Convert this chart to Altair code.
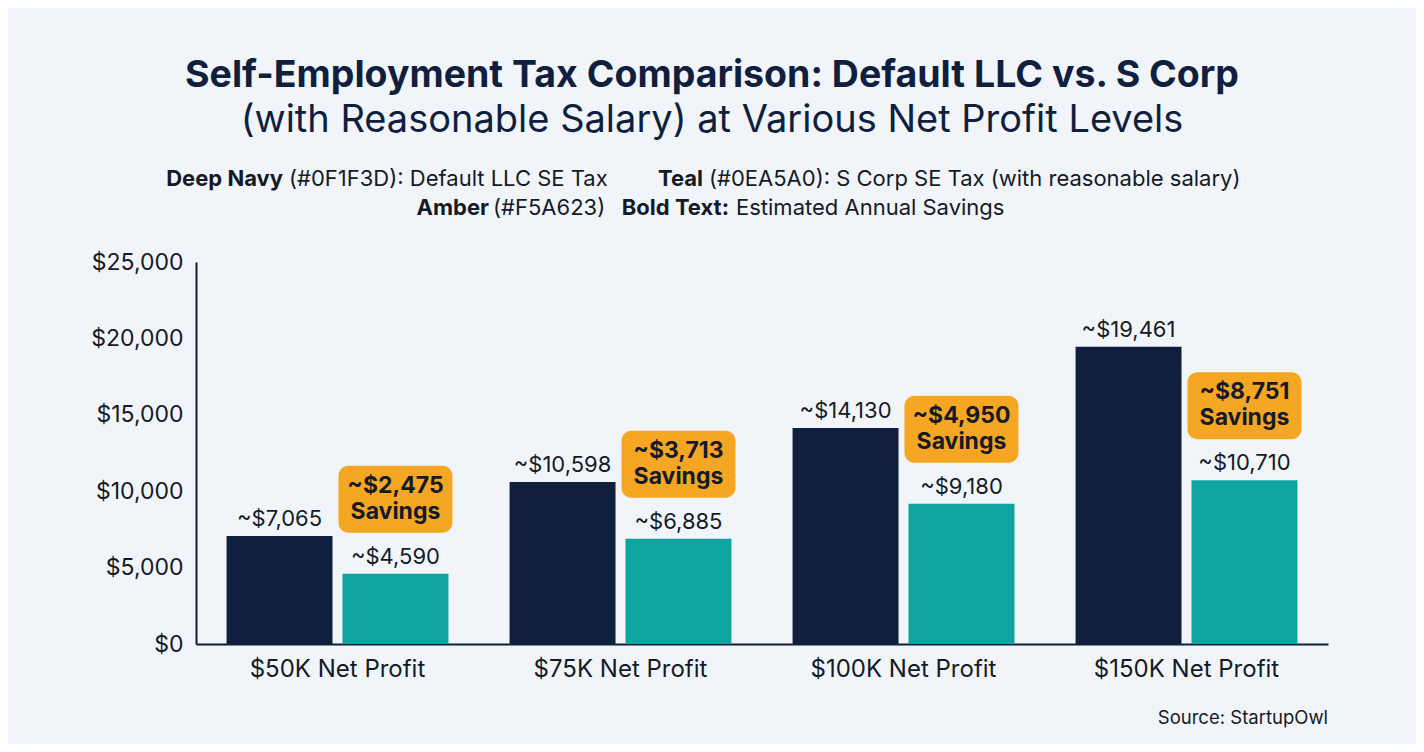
import altair as alt
import pandas as pd

categories = ["$50K Net Profit", "$75K Net Profit", "$100K Net Profit", "$150K Net Profit"]
series = ["Default LLC SE Tax", "S Corp SE Tax"]
llc_tax = [7065, 10598, 14130, 19461]
scorp_tax = [4590, 6885, 9180, 10710]
savings = [2475, 3713, 4950, 8751]
y_ticks = [0, 5000, 10000, 15000, 20000, 25000]

NAVY = "#0F1F3D"
TEAL = "#0EA5A0"
AMBER = "#F5A623"
BG = "#F1F5F9"
INK = "#141a26"
FONT = "Inter"

rows = []
for c, a, b in zip(categories, llc_tax, scorp_tax):
    rows.append({"category": c, "series": series[0], "value": a, "label": f"~${a:,}"})
    rows.append({"category": c, "series": series[1], "value": b, "label": f"~${b:,}"})
df_long = pd.DataFrame(rows)

df_sav = pd.DataFrame({
    "category": categories,
    "series": [series[1]] * len(categories),
    "value": scorp_tax,
    "sav_label": [f"~${s:,}\nSavings" for s in savings],
})

x_enc = alt.X(
    "category:N", sort=categories, title=None,
    scale=alt.Scale(paddingInner=0.216, paddingOuter=0.108),
    axis=alt.Axis(labelAngle=0, labelFontSize=24, labelPadding=13, ticks=False, labelLimit=0,
                  domainColor=NAVY, domainWidth=2, labelColor=INK, labelFont=FONT),
)
xo_enc = alt.XOffset("series:N", sort=series,
                     scale=alt.Scale(domain=series, paddingInner=0.086, paddingOuter=0))
y_enc = alt.Y(
    "value:Q", title=None,
    scale=alt.Scale(domain=[0, 25000], nice=False),
    axis=alt.Axis(values=y_ticks, format="$,.0f", labelFontSize=23, labelPadding=13,
                  ticks=False, grid=False, domainColor=NAVY, domainWidth=2,
                  labelColor=INK, labelFont=FONT),
)

bars = alt.Chart(df_long).mark_bar().encode(
    x=x_enc, xOffset=xo_enc, y=y_enc,
    color=alt.Color("series:N", scale=alt.Scale(domain=series, range=[NAVY, TEAL]), legend=None),
)

val_labels = alt.Chart(df_long).mark_text(
    baseline="alphabetic", dy=-10, fontSize=22, font=FONT, color=INK
).encode(x=x_enc, xOffset=xo_enc, y=y_enc, text="label:N")

boxes = alt.Chart(df_sav).mark_bar(
    width=114, cornerRadius=10, color=AMBER, yOffset=-108, y2Offset=-41
).encode(x=x_enc, xOffset=xo_enc, y=y_enc, y2="value:Q")

box_text = alt.Chart(df_sav).mark_text(
    baseline="middle", align="center", yOffset=-88, fontSize=23, fontWeight="bold",
    font=FONT, color=INK, lineBreak="\n", lineHeight=26,
).encode(x=x_enc, xOffset=xo_enc, y=y_enc, text="sav_label:N")


def note(text, x, y, size, weight="normal", align="center", color=INK, baseline="alphabetic"):
    return alt.Chart(pd.DataFrame({"t": [text]})).mark_text(
        fontSize=size, fontWeight=weight, align=align, baseline=baseline,
        font=FONT, color=color,
    ).encode(x=alt.value(x), y=alt.value(y), text="t:N")


notes = [
    note("Self-Employment Tax Comparison: Default LLC vs. S Corp", 516, -175, 37.5, "bold", color=NAVY),
    note("(with Reasonable Salary) at Various Net Profit Levels", 516, -130, 38, "normal", color=NAVY),
    note("Deep Navy", 87, -76, 22, "bold", "right"),
    note("(#0F1F3D): Default LLC SE Tax", 93, -76, 22, "normal", "left"),
    note("Teal", 507, -76, 22, "bold", "right"),
    note("(#0EA5A0): S Corp SE Tax (with reasonable salary)", 513, -76, 22, "normal", "left"),
    note("Amber", 293, -47, 22, "bold", "right"),
    note("(#F5A623)", 297, -47, 22, "normal", "left"),
    note("Bold Text:", 533, -47, 22, "bold", "right"),
    note("Estimated Annual Savings", 540, -47, 22, "normal", "left"),
    note("Source: StartupOwl", 1132, 456, 18.5, "normal", "right", baseline="middle"),
]

chart = alt.layer(bars, val_labels, boxes, box_text, *notes).properties(
    width=1132, height=382,
    autosize=alt.AutoSizeParams(type="none"),
    padding={"left": 188, "top": 254, "right": 88, "bottom": 100},
    background=BG,
).configure_view(stroke=None)

chart.save("out.html", embed_options={"renderer": "svg", "actions": False})
